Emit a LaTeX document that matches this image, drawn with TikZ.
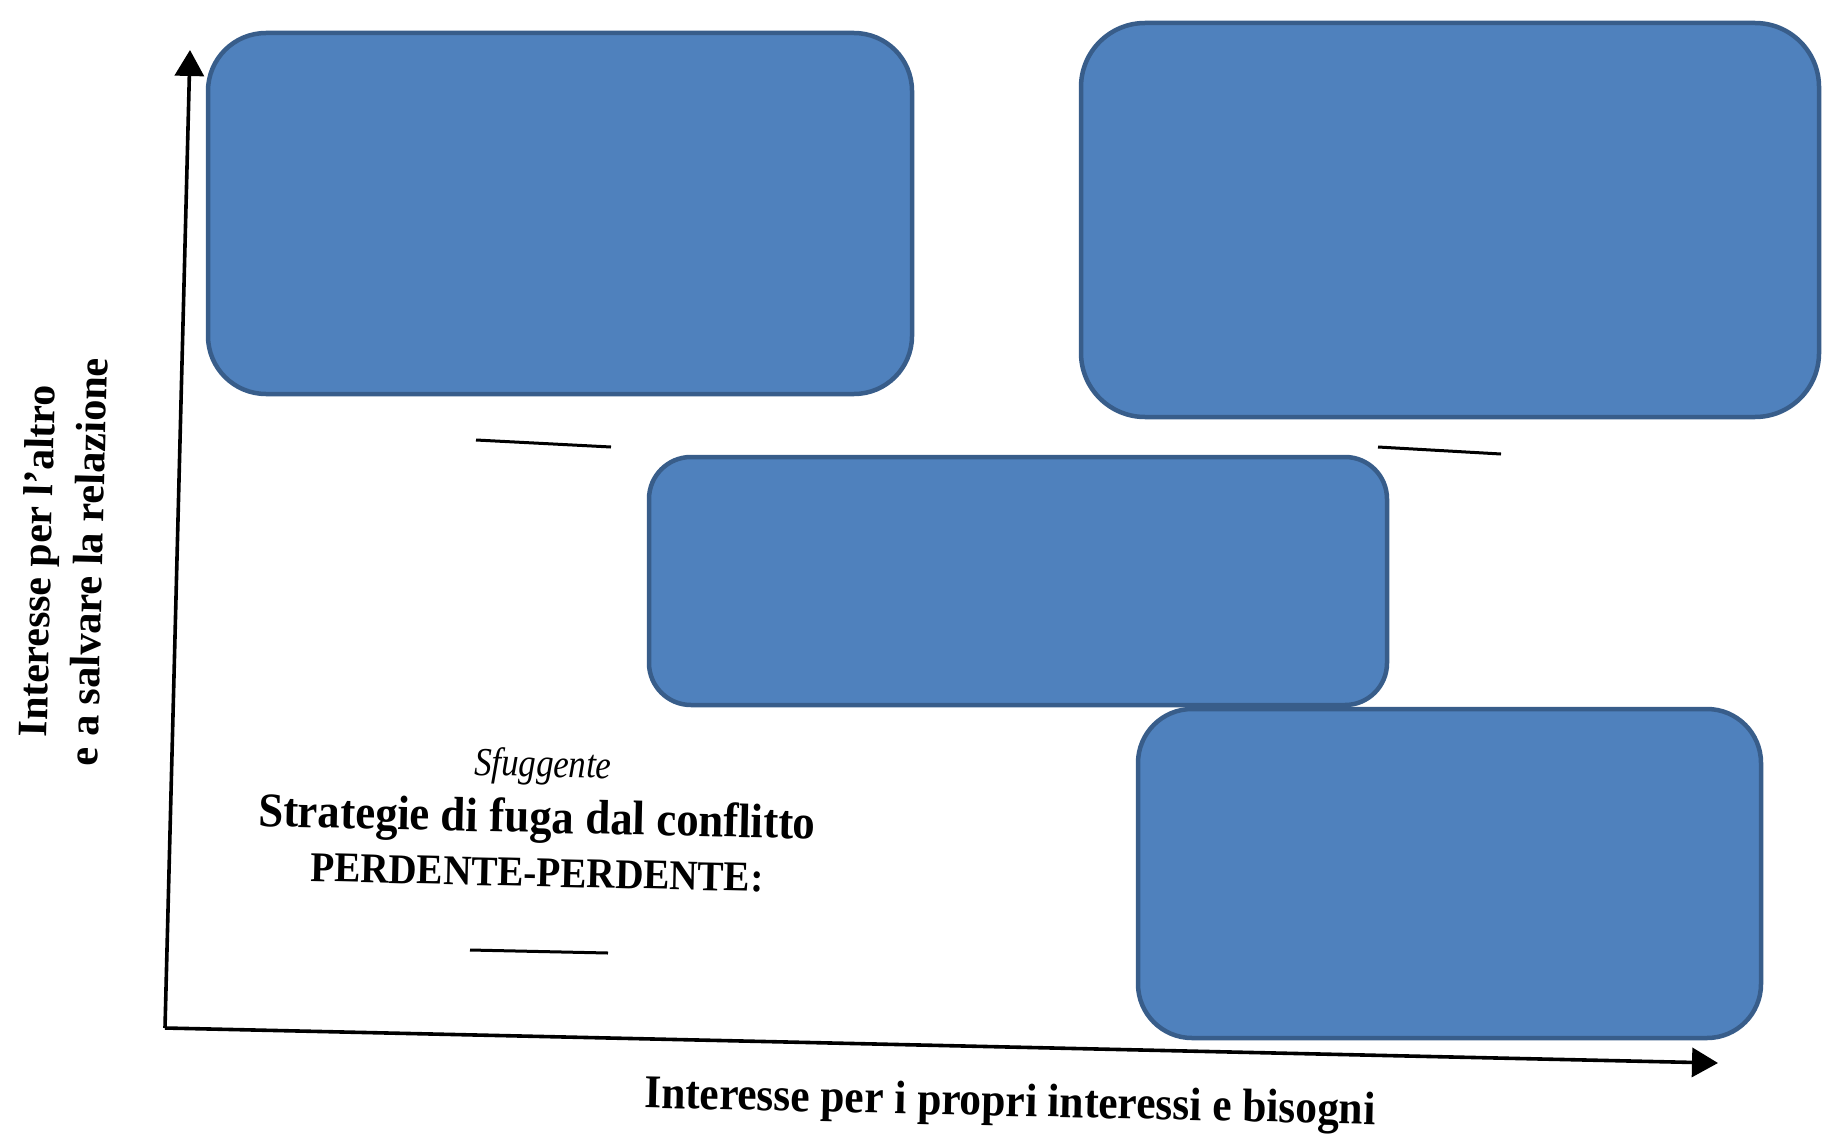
\documentclass[tikz,border=0pt]{standalone}
\usepackage{fontspec}
\usepackage{graphicx}
\setmainfont{Liberation Serif}
\usetikzlibrary{arrows.meta}
\definecolor{boxfill}{HTML}{4F81BD}
\definecolor{boxedge}{HTML}{385D8A}
\begin{document}
\begin{tikzpicture}[x=1pt,y=-1pt,
  quad/.style={draw=boxedge, fill=boxfill, line width=4.5pt, inner sep=0pt},
  axis/.style={line width=3.6pt, -{Triangle[length=26pt,width=29pt]}},
  blank/.style={line width=3pt},
  lbl/.style={inner sep=0pt, font=\bfseries}]
\useasboundingbox (0,0) rectangle (1843,1145);
\fill[white] (0,0) rectangle (1843,1145);

% quadrant boxes
\node[quad, minimum width=704pt, minimum height=361pt, rounded corners=58pt] (b1) at (560,213.5) {};
\node[quad, minimum width=738pt, minimum height=394pt, rounded corners=64pt] (b2) at (1450,220) {};
\node[quad, minimum width=738pt, minimum height=248pt, rounded corners=42pt] (b3) at (1018,581) {};
\node[quad, minimum width=623pt, minimum height=329pt, rounded corners=54pt] (b4) at (1449.5,873.5) {};

% axes
\coordinate (o) at (165,1028);
\coordinate (ytip) at (190,50);
\coordinate (xtip) at (1718,1063);
\draw[axis] (o) -- (ytip);
\draw[axis] (o) -- (xtip);

% blanks to fill in
\coordinate (d1a) at (476,440); \coordinate (d1b) at (611,447);
\coordinate (d2a) at (1378,447); \coordinate (d2b) at (1501,454);
\coordinate (d3a) at (470,950); \coordinate (d3b) at (608,953);
\draw[blank] (d1a) -- (d1b);
\draw[blank] (d2a) -- (d2b);
\draw[blank] (d3a) -- (d3b);

% lower-left quadrant text
\node[inner sep=0pt, rotate=-1.3] (sf) at (543,767) {\scalebox{1}[1.15]{\resizebox{137pt}{!}{\itshape Sfuggente}}};
\node[lbl, rotate=-1.3] (st) at (537,821) {\scalebox{1}[1.08]{\resizebox{557pt}{!}{Strategie di fuga dal conflitto}}};
\node[lbl, rotate=-1.3] (pp) at (537,873) {\scalebox{1}[1.08]{\resizebox{453pt}{!}{PERDENTE-PERDENTE:}}};

% axis titles
\node[lbl, rotate=-1.3] (xl) at (1010,1105) {\scalebox{1}[1.08]{\resizebox{731pt}{!}{Interesse per i propri interessi e bisogni}}};
\node[lbl, rotate=88.6] (yl1) at (41,561) {\resizebox{352pt}{!}{Interesse per l’altro}};
\node[lbl, rotate=88.6] (yl2) at (88,562) {\resizebox{408pt}{!}{e a salvare la relazione}};
\end{tikzpicture}
\end{document}
